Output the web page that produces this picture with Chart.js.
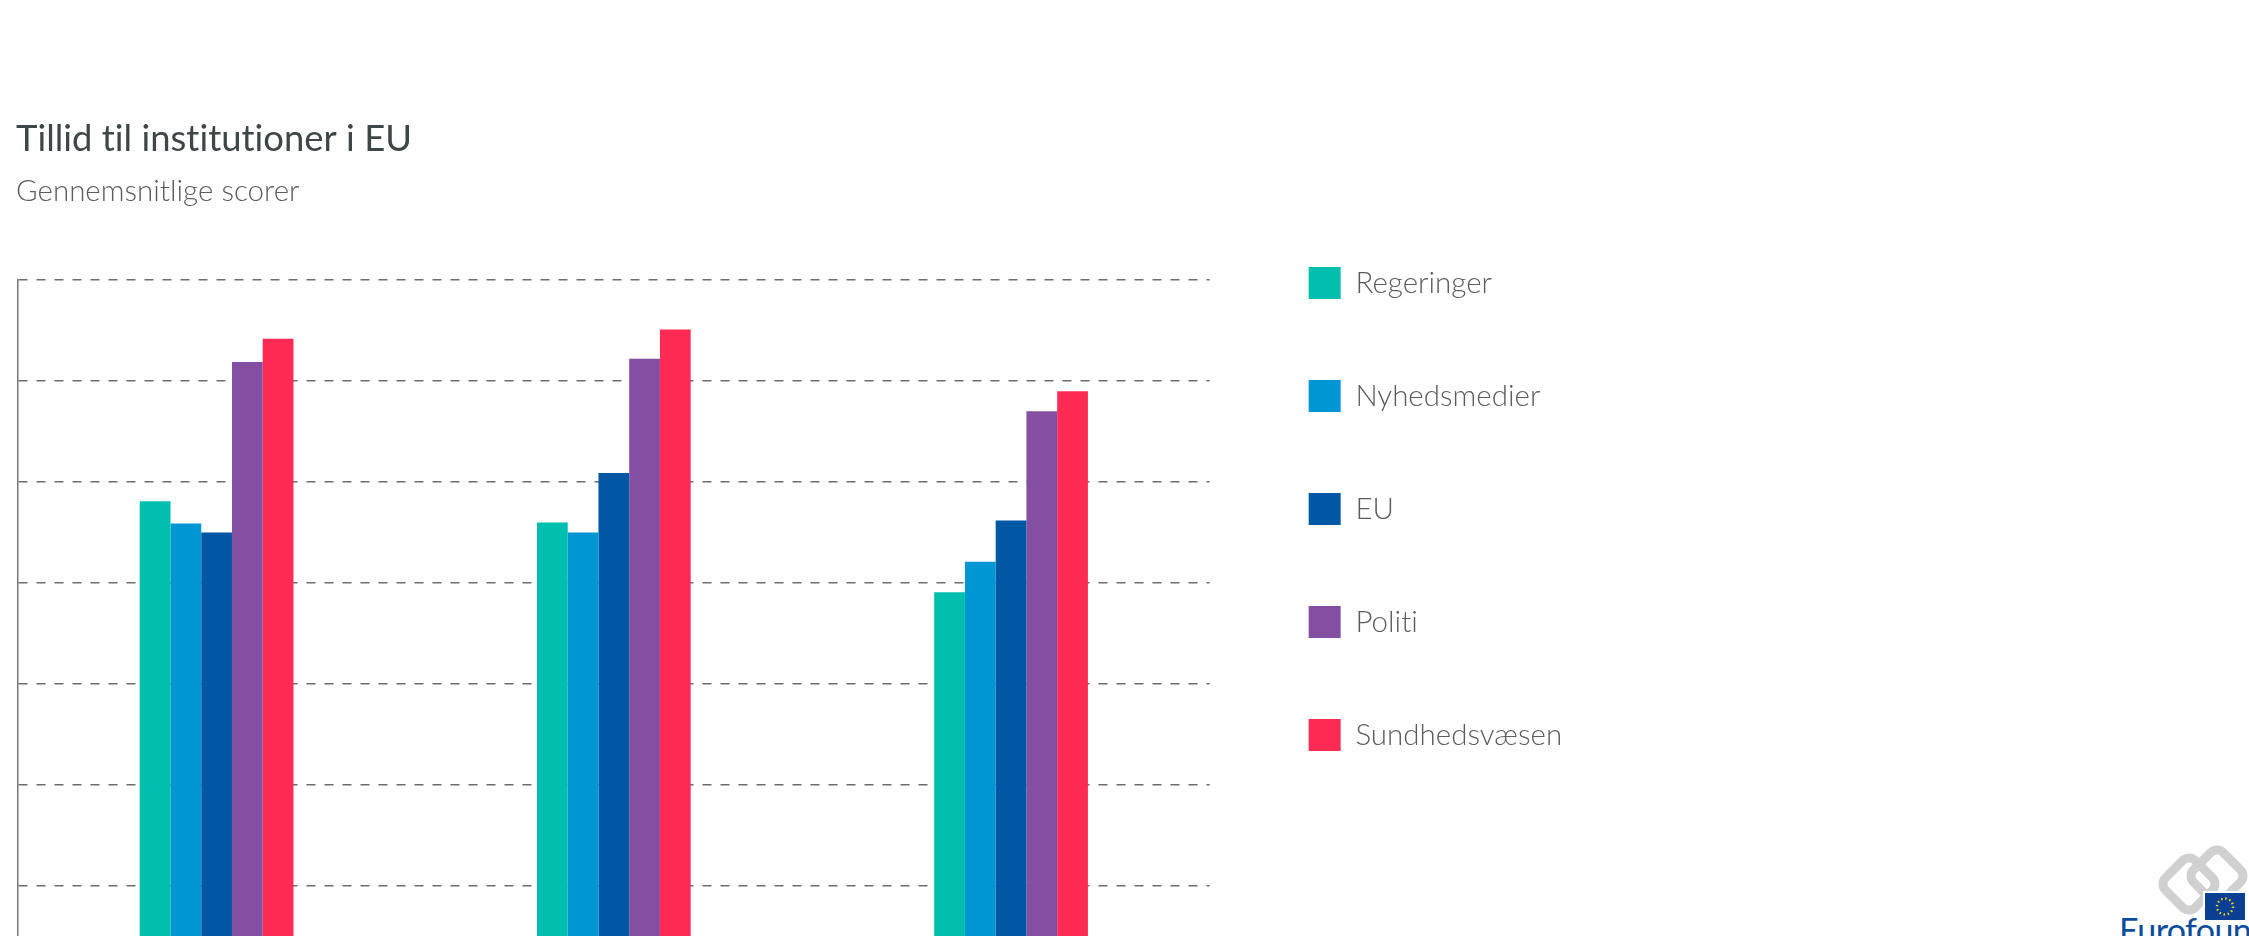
<!DOCTYPE html>
<html>
<head>
  <meta charset="utf-8">
  <title>Tillid til institutioner i EU</title>
  <script src="https://cdn.jsdelivr.net/npm/chart.js@4.4.1/dist/chart.umd.min.js"></script>
  <style>
    html, body { margin: 0; padding: 0; background: #fff; overflow: hidden; }
    .chart-box { position: absolute; left: 0; top: 0; width: 1572px; height: 1060px; }
    .logo { position: absolute; left: 2110px; top: 845px; }
  </style>
</head>
<body>
<div class="chart-box">
  <canvas id="myChart"></canvas>
</div>

<!-- Eurofound logo, cut off by the bottom edge like in the original -->
<svg class="logo" width="139" height="110" viewBox="0 0 139 110">
  <rect x="58" y="18" width="42" height="42" rx="9" fill="none" stroke="#d0d0d0" stroke-width="9" transform="rotate(45 79 39)"/>
  <rect x="86" y="10" width="42" height="42" rx="9" fill="none" stroke="#d0d0d0" stroke-width="9" transform="rotate(45 107 31)"/>
  <rect x="94" y="47" width="42" height="29" fill="#0a3f94" stroke="#fff" stroke-width="2"/>
  <circle cx="115" cy="61.5" r="8" fill="none" stroke="#ffdd00" stroke-width="2.4" stroke-dasharray="1.4 2.79"/>
  <text x="9" y="98" font-family="Lato" font-size="34" letter-spacing="-0.6" fill="#0b4c9c">Eurofound</text>
</svg>

<script>
  // survey rounds (x axis labels sit below the visible area)
  var rounds = ['April-maj 2020', 'Juni-juli 2020', 'Februar-marts 2021'];

  // average trust scores
  var regeringer   = [4.81, 4.60, 3.91];
  var nyhedsmedier = [4.59, 4.50, 4.21];
  var eu           = [4.50, 5.09, 4.62];
  var politi       = [6.19, 6.22, 5.70];
  var sundhed      = [6.42, 6.51, 5.90];

  var yMin = 0;
  var yMax = 7;
  var yStep = 1;

  Chart.defaults.font.family = 'Lato';

  // Lato has a "ti" ligature, the original font does not
  var noLigatures = {
    id: 'noLigatures',
    beforeDraw: function(chart) {
      chart.ctx.textRendering = 'optimizeSpeed';
      chart.ctx.letterSpacing = '0.01px';
    }
  };

  var ctx = document.getElementById('myChart').getContext('2d');
  var myChart = new Chart(ctx, {
    type: 'bar',
    plugins: [noLigatures],
    data: {
      labels: rounds,
      datasets: [
        { label: 'Regeringer', data: regeringer, backgroundColor: '#00bfae' },
        { label: 'Nyhedsmedier', data: nyhedsmedier, backgroundColor: '#0096d4' },
        { label: 'EU', data: eu, backgroundColor: '#0057a3' },
        { label: 'Politi', data: politi, backgroundColor: '#844fa2' },
        { label: 'Sundhedsvæsen', data: sundhed, backgroundColor: '#ff2b55' }
      ]
    },
    options: {
      responsive: true,
      maintainAspectRatio: false,
      animation: false,
      layout: { padding: { left: 16, right: 0, top: 0, bottom: 0 } },
      datasets: {
        bar: { categoryPercentage: 0.387, barPercentage: 1, borderWidth: 0 }
      },
      plugins: {
        title: {
          display: true,
          text: 'Tillid til institutioner i EU',
          align: 'start',
          color: '#3e4747',
          font: { size: 36.4, weight: 400 },
          padding: { top: 117.2, bottom: 4 }
        },
        subtitle: {
          display: true,
          text: 'Gennemsnitlige scorer',
          align: 'start',
          color: '#5c5c5c',
          font: { size: 29.5, weight: 300 },
          padding: { top: 8.5, bottom: 71.3 }
        },
        legend: {
          position: 'right',
          align: 'start',
          maxWidth: 345,
          // empty title only pushes the legend items down
          title: { display: true, text: '', font: { size: 10 }, padding: { top: 174, bottom: 0 } },
          labels: {
            boxWidth: 32,
            boxHeight: 32,
            padding: 81,
            color: '#5c5c5c',
            font: { size: 29.5, weight: 300 }
          }
        },
        tooltip: { enabled: false }
      },
      scales: {
        x: {
          grid: { display: false },
          border: { display: false },
          ticks: { color: '#5c5c5c', font: { size: 26, weight: 300 } },
          afterFit: function(s) { s.height = 73; }
        },
        y: {
          min: yMin,
          max: yMax,
          ticks: { display: false, stepSize: yStep },
          grid: { color: '#6e6e6e', lineWidth: 1.5, drawTicks: false },
          border: { display: true, color: '#777', width: 1.5, dash: [9, 9] },
          afterFit: function(s) { s.width = 2; }
        },
        // keeps a gap between the plot and the legend
        spacer: {
          position: 'right',
          grid: { display: false },
          border: { display: false },
          ticks: { display: false },
          afterFit: function(s) { s.width = 18; }
        }
      }
    }
  });
</script>
</body>
</html>
